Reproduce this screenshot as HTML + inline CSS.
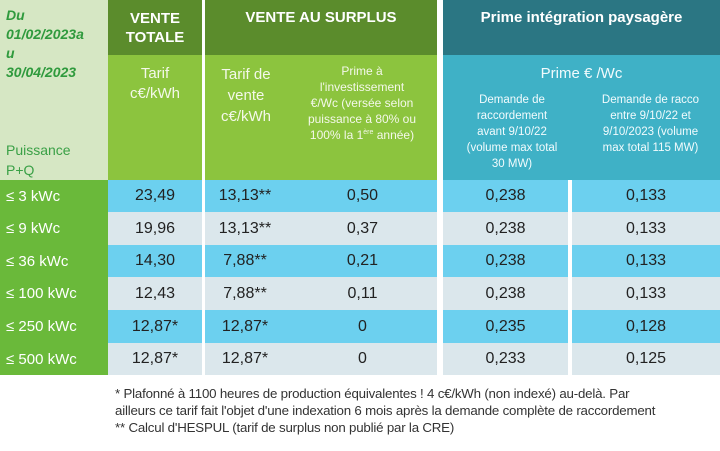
<!DOCTYPE html>
<html><head><meta charset="utf-8"><style>
body{margin:0;width:720px;height:451px;background:#fff;position:relative;overflow:hidden;font-family:"Liberation Sans",sans-serif}
div.c{position:absolute;box-sizing:border-box;display:flex;align-items:center;justify-content:center;text-align:center}
div.b{position:absolute;box-sizing:border-box;text-align:center}
.h1{color:#fff;font-weight:bold;font-size:15px;line-height:19px}
.h2{color:#f4f8ea;font-size:14px;line-height:18px}
.d{font-size:16px;color:#222}
.l{color:#fff;font-size:15px;justify-content:flex-start!important;padding-left:6px}
.f{position:absolute;left:115px;font-size:13.3px;color:#333;line-height:17px;letter-spacing:-0.2px}
</style></head><body>
<div class="b" style="left:0;top:0;width:108px;height:180px;background:#d6e7c4;text-align:left;padding:6px 0 0 6px">
<div style="color:#2f9a3d;font-style:italic;font-weight:bold;font-size:14px;line-height:19px">Du<br>01/02/2023a<br>u<br>30/04/2023</div>
<div style="color:#3aa046;font-size:14px;line-height:20px;margin-top:58px">Puissance<br>P+Q</div></div>
<div class="c h1" style="left:108px;top:0;width:94px;height:55px;background:#5b8c2c">VENTE<br>TOTALE</div>
<div class="b h1" style="left:205px;top:0;width:232px;height:55px;background:#5b8c2c;padding-top:8px">VENTE AU SURPLUS</div>
<div class="b h1" style="left:443px;top:0;width:277px;height:55px;background:#2b7683;padding-top:8px">Prime intégration paysagère</div>
<div class="b h2" style="left:108px;top:55px;width:94px;height:125px;background:#8cc43e;padding-top:9px;font-size:15px;line-height:20px">Tarif<br>c€/kWh</div>
<div class="b" style="left:205px;top:55px;width:232px;height:125px;background:#8cc43e"></div>
<div class="b h2" style="left:208px;top:55px;width:76px;height:125px;padding-top:9px;font-size:15px;line-height:21px">Tarif de<br>vente<br>c€/kWh</div>
<div class="b h2" style="left:286px;top:55px;width:152px;height:125px;padding-top:8px;font-size:12px;line-height:16px;white-space:nowrap">Prime à<br>l'investissement<br>€/Wc (versée selon<br>puissance à 80% ou<br>100% la 1<sup style="font-size:7px;line-height:0">ère</sup> année)</div>
<div class="b" style="left:443px;top:55px;width:277px;height:125px;background:#3fb1c6;color:#f2fbfd">
<div style="font-size:15px;margin-top:10px">Prime € /Wc</div>
<div style="position:absolute;left:6px;top:37px;width:126px;font-size:11.5px;line-height:16px">Demande de<br>raccordement<br>avant 9/10/22<br>(volume max total<br>30 MW)</div>
<div style="position:absolute;left:138px;top:37px;width:139px;font-size:11.5px;line-height:16px">Demande de racco<br>entre 9/10/22 et<br>9/10/2023 (volume<br>max total 115 MW)</div></div>
<div class="b" style="left:0;top:180px;width:108px;height:195px;background:#6ab93a"></div>
<div id="rows"></div>
<script>
var r=[["≤ 3 kWc","23,49","13,13**","0,50","0,238","0,133"],["≤ 9 kWc","19,96","13,13**","0,37","0,238","0,133"],["≤ 36 kWc","14,30","7,88**","0,21","0,238","0,133"],["≤ 100 kWc","12,43","7,88**","0,11","0,238","0,133"],["≤ 250 kWc","12,87*","12,87*","0","0,235","0,128"],["≤ 500 kWc","12,87*","12,87*","0","0,233","0,125"]];
var h="";var tops=[180,212,245,277,310,343,375];
r.forEach(function(a,i){var t=tops[i],hh=tops[i+1]-t,bg=i%2?"#dbe7ec":"#6cd0ef";
h+='<div class="c l" style="left:0;top:'+t+'px;width:108px;height:'+hh+'px">'+a[0]+'</div>';
h+='<div class="c d" style="left:108px;top:'+t+'px;width:94px;height:'+hh+'px;background:'+bg+'">'+a[1]+'</div>';
h+='<div class="c d" style="left:205px;top:'+t+'px;width:232px;height:'+hh+'px;background:'+bg+'"></div>';
h+='<div class="c d" style="left:205px;top:'+t+'px;width:80px;height:'+hh+'px">'+a[2]+'</div>';
h+='<div class="c d" style="left:290px;top:'+t+'px;width:145px;height:'+hh+'px">'+a[3]+'</div>';
h+='<div class="c d" style="left:443px;top:'+t+'px;width:125px;height:'+hh+'px;background:'+bg+'">'+a[4]+'</div>';
h+='<div class="c d" style="left:572px;top:'+t+'px;width:148px;height:'+hh+'px;background:'+bg+'">'+a[5]+'</div>';});
document.getElementById("rows").innerHTML=h;
</script>
<div class="f" style="top:385px">* Plafonné à 1100 heures de production équivalentes ! 4 c€/kWh (non indexé) au-delà. Par<br>ailleurs ce tarif fait l'objet d'une indexation 6 mois après la demande complète de raccordement<br>** Calcul d'HESPUL (tarif de surplus non publié par la CRE)</div>
</body></html>
